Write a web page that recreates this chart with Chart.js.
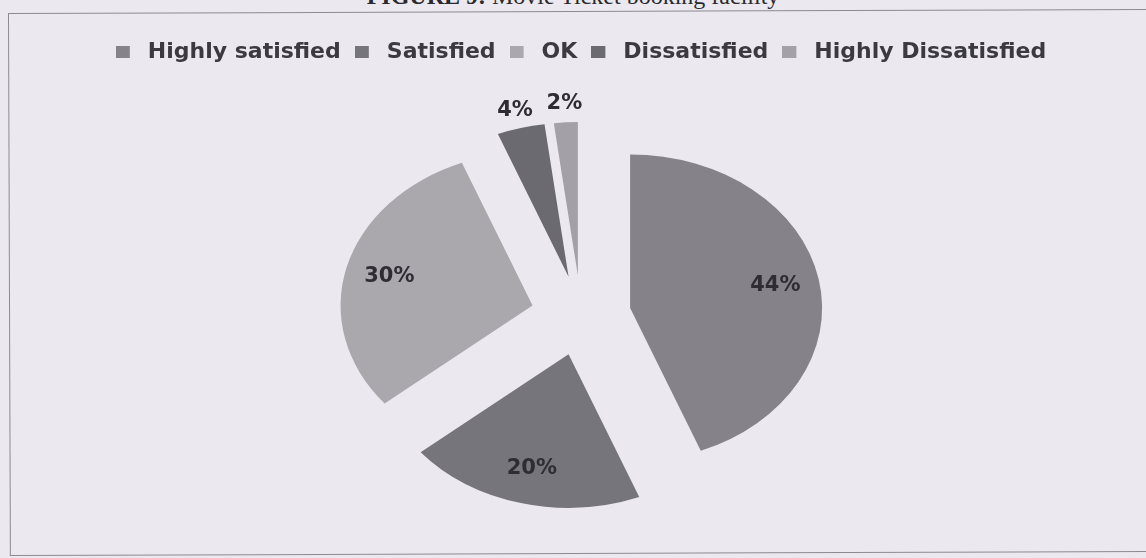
<!DOCTYPE html>
<html><head><meta charset="utf-8">
<script src="https://cdn.jsdelivr.net/npm/chart.js@4.4.1/dist/chart.umd.min.js"></script>
<style>
html,body{margin:0;padding:0;background:#ebe8ef;width:1146px;height:558px;overflow:hidden;}
#wrap{position:relative;width:1146px;height:558px;}
#title{position:absolute;left:0;width:1146px;top:-16px;line-height:24px;text-align:center;font-family:"Liberation Serif","Times New Roman",serif;font-size:24px;color:#2a2a2e;white-space:nowrap;}
#frame{position:absolute;left:8px;top:13px;width:1160px;height:541px;border:1.5px solid #8c8b90;border-right:none;transform:rotate(-0.2deg);transform-origin:0 0;}
canvas{position:absolute;left:0;top:0;}
</style></head>
<body><div id="wrap"><div id="title"><b>FIGURE 9:</b> Movie Ticket booking facility</div><div id="frame"></div><canvas id="c" width="1146" height="558"></canvas></div>
<script>
const categories = ['Highly satisfied','Satisfied','OK','Dissatisfied','Highly Dissatisfied'];
const values = [44, 20, 30, 4, 2];
const percentLabels = ['44%','20%','30%','4%','2%'];
const colors = ['#858389','#76757b','#aaa8ad','#6b6a70','#a3a1a7'];

const SCALE_Y = 0.8;
const EXPLODE = 50;

// legend swatch: 14x12 square, left-aligned in a 21px wide box
function makeSwatch(color) {
  const c = document.createElement('canvas');
  c.width = 21; c.height = 12;
  const g = c.getContext('2d');
  g.fillStyle = color;
  g.fillRect(0, 0, 14, 12);
  return c;
}

const pie3d = {
  id: 'pie3d',
  beforeDatasetDraw(chart, args) {
    const ctx = chart.ctx;
    const arcs = args.meta.data;
    const cx = arcs[0].x, cy = arcs[0].y;
    ctx.save();
    ctx.translate(cx, cy); ctx.scale(1, SCALE_Y); ctx.translate(-cx, -cy);
    arcs.forEach(arc => {
      const mid = (arc.startAngle + arc.endAngle) / 2;
      ctx.save();
      ctx.translate(Math.cos(mid) * EXPLODE, Math.sin(mid) * EXPLODE);
      arc.draw(ctx);
      ctx.restore();
    });
    ctx.restore();
    return false;
  },
  afterDatasetsDraw(chart) {
    const ctx = chart.ctx;
    const meta = chart.getDatasetMeta(0);
    ctx.save();
    ctx.font = 'bold 21px "DejaVu Sans"';
    ctx.fillStyle = '#2e2d33';
    ctx.textAlign = 'center';
    ctx.textBaseline = 'middle';
    meta.data.forEach((arc, i) => {
      const mid = (arc.startAngle + arc.endAngle) / 2;
      const R = arc.outerRadius;
      const r = EXPLODE + (values[i] < 5 ? 1.12 * R : 0.77 * R);
      const x = arc.x + Math.cos(mid) * r;
      const y = arc.y + Math.sin(mid) * r * SCALE_Y;
      ctx.fillText(percentLabels[i], x, y);
    });
    ctx.restore();
  }
};

new Chart(document.getElementById('c'), {
  type: 'pie',
  data: {
    labels: categories,
    datasets: [{ data: values, backgroundColor: colors, borderWidth: 0 }]
  },
  options: {
    responsive: false,
    devicePixelRatio: 1,
    animation: false,
    radius: 192,
    layout: { padding: { left: 16, right: 0, top: 27, bottom: 0 } },
    plugins: {
      legend: {
        position: 'top',
        labels: {
          usePointStyle: true, pointStyleWidth: 21, boxHeight: 12, padding: 14,
          color: '#3b3a40',
          font: { family: '"DejaVu Sans"', size: 22, weight: 'bold' },
          generateLabels(chart) {
            const items = Chart.overrides.doughnut.plugins.legend.labels.generateLabels(chart);
            items.forEach((it, i) => { it.pointStyle = makeSwatch(colors[i]); });
            return items;
          }
        }
      },
      tooltip: { enabled: false }
    }
  },
  plugins: [pie3d]
});
</script>
</body></html>
